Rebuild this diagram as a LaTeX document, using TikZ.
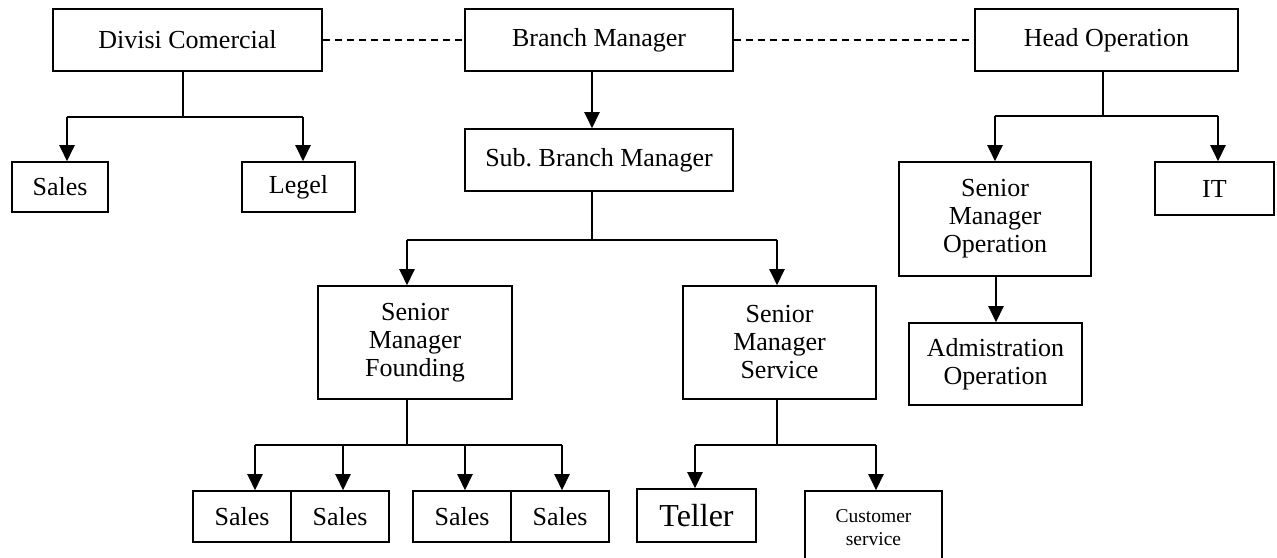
\documentclass[tikz,border=0pt]{standalone}
\usepackage{fontspec}
\setmainfont{Liberation Serif}
\usetikzlibrary{arrows.meta}
\frenchspacing
\begin{document}
\begin{tikzpicture}[x=1pt,y=-1pt,
  box/.style={draw,line width=1.6pt,inner sep=0pt,align=center,font=\fontsize{26}{28}\selectfont},
  ln/.style={line width=1.6pt},
  arr/.style={line width=2.4pt,-{Triangle[length=16pt,width=15pt]}},
  dsh/.style={line width=1.5pt,dash pattern=on 7pt off 5pt}]
\useasboundingbox (0,0) rectangle (1277,557);
% boxes
\node[box,minimum width=269pt,minimum height=62pt] (div) at (187.5,40) {Divisi Comercial};
\node[box,minimum width=268pt,minimum height=62pt] (bm) at (599,40) {Branch Manager};
\node[box,minimum width=263pt,minimum height=62pt] (ho) at (1106.5,40) {Head Operation};
\node[box,minimum width=96pt,minimum height=50pt] (sales0) at (60,187) {Sales};
\node[box,minimum width=113pt,minimum height=50pt] (legel) at (298.5,187) {Legel};
\node[box,minimum width=268pt,minimum height=62pt] (sub) at (599,160) {Sub.\ Branch Manager};
\node[box,minimum width=194pt,minimum height=113pt] (smf) at (415,342.5) {Senior\\Manager\\Founding};
\node[box,minimum width=193pt,minimum height=113pt] (sms) at (779.5,342.5) {Senior\\Manager\\Service};
\node[box,minimum width=192pt,minimum height=114pt] (smo) at (995,219) {Senior\\Manager\\Operation};
\node[box,minimum width=119pt,minimum height=53pt] (it) at (1214.5,188.5) {IT};
\node[box,minimum width=173pt,minimum height=82pt] (adm) at (995.5,364) {Admistration\\Operation};
\node[box,minimum width=98pt,minimum height=51pt] (s1) at (242,516.5) {Sales};
\node[box,minimum width=98pt,minimum height=51pt] (s2) at (340,516.5) {Sales};
\node[box,minimum width=98pt,minimum height=51pt] (s3) at (462,516.5) {Sales};
\node[box,minimum width=98pt,minimum height=51pt] (s4) at (560,516.5) {Sales};
\node[box,minimum width=119pt,minimum height=53pt,font=\fontsize{32}{34}\selectfont] (teller) at (696.5,515.5) {Teller};
\node[box,minimum width=137pt,minimum height=74pt,font=\fontsize{19.5}{23}\selectfont] (cs) at (873.5,528) {Customer\\service};
% dashed links
\draw[dsh] (div.east) -- (bm.west);
\draw[dsh] (bm.east) -- (ho.west);
% Divisi Comercial branch
\coordinate (j1) at (183,117);
\coordinate (a1) at (67,117);
\coordinate (a2) at (303,117);
\draw[ln] (div.south -| j1) -- (j1);
\draw[ln] (a1) -- (a2);
\draw[arr] (a1) -- (a1 |- sales0.north);
\draw[arr] (a2) -- (a2 |- legel.north);
% Branch manager to sub
\coordinate (x1) at (592,0);
\draw[arr] (bm.south -| x1) -- (sub.north -| x1);
% Sub branch
\coordinate (j2) at (592,240);
\coordinate (b1) at (407,240);
\coordinate (b2) at (777,240);
\draw[ln] (sub.south -| j2) -- (j2);
\draw[ln] (b1) -- (b2);
\draw[arr] (b1) -- (b1 |- smf.north);
\draw[arr] (b2) -- (b2 |- sms.north);
% Head operation branch
\coordinate (j3) at (1103,116);
\coordinate (c1) at (995,116);
\coordinate (c2) at (1218,116);
\draw[ln] (ho.south -| j3) -- (j3);
\draw[ln] (c1) -- (c2);
\draw[arr] (c1) -- (c1 |- smo.north);
\draw[arr] (c2) -- (c2 |- it.north);
% SMO to admin
\coordinate (x2) at (996,0);
\draw[arr] (smo.south -| x2) -- (adm.north -| x2);
% Founding branch
\coordinate (j4) at (407,445);
\coordinate (d1) at (255,445);
\coordinate (d2) at (343,445);
\coordinate (d3) at (465,445);
\coordinate (d4) at (562,445);
\draw[ln] (smf.south -| j4) -- (j4);
\draw[ln] (d1) -- (d4);
\draw[arr] (d1) -- (d1 |- s1.north);
\draw[arr] (d2) -- (d2 |- s2.north);
\draw[arr] (d3) -- (d3 |- s3.north);
\draw[arr] (d4) -- (d4 |- s4.north);
% Service branch
\coordinate (j5) at (777,445);
\coordinate (e1) at (695,445);
\coordinate (e2) at (876,445);
\draw[ln] (sms.south -| j5) -- (j5);
\draw[ln] (e1) -- (e2);
\draw[arr] (e1) -- (e1 |- teller.north);
\draw[arr] (e2) -- (e2 |- cs.north);
\end{tikzpicture}
\end{document}
